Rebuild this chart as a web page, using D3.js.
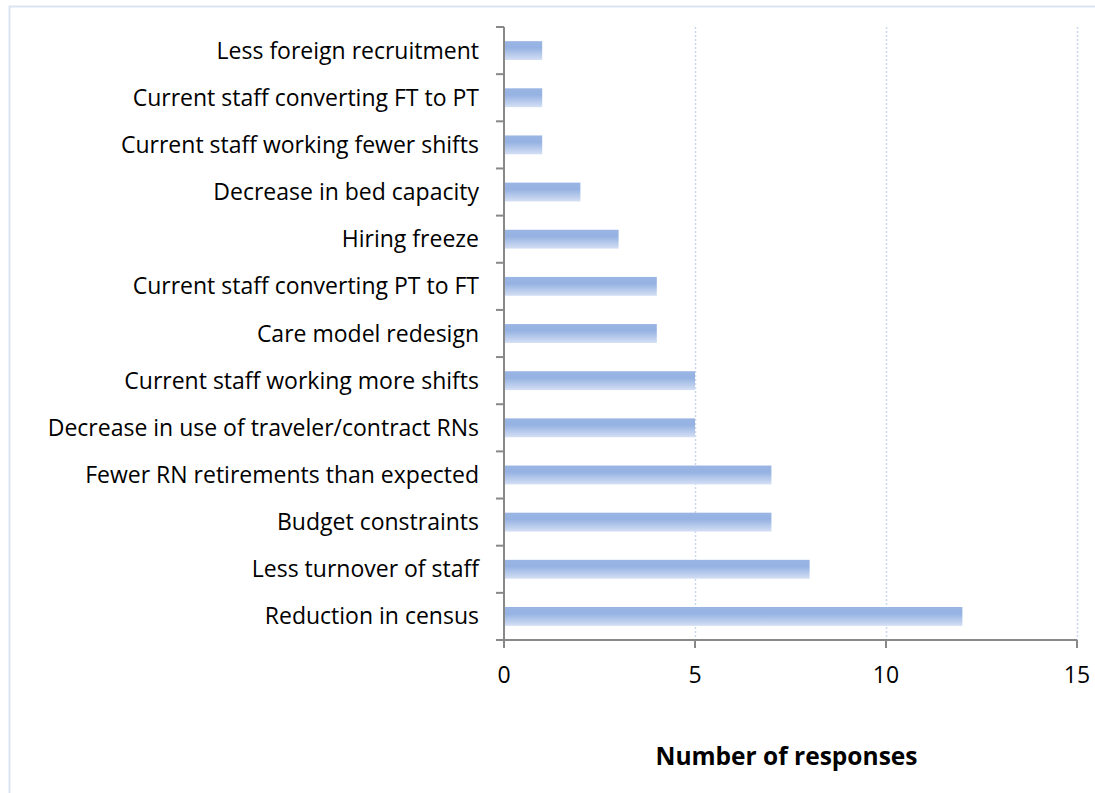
<!DOCTYPE html>
<html><head><meta charset="utf-8">
<script src="https://cdn.jsdelivr.net/npm/d3@7"></script>
<style>body{margin:0;background:#fff;}svg{display:block;font-family:"Open Sans",sans-serif;}</style>
</head><body>
<svg id="chart" width="1095" height="793"></svg>
<script>
const categories = ["Less foreign recruitment","Current staff converting FT to PT","Current staff working fewer shifts","Decrease in bed capacity","Hiring freeze","Current staff converting PT to FT","Care model redesign","Current staff working more shifts","Decrease in use of traveler/contract RNs","Fewer RN retirements than expected","Budget constraints","Less turnover of staff","Reduction in census"];
const values = [1,1,1,2,3,4,4,5,5,7,7,8,12];
const xTicks = [0,5,10,15];
const xTitle = "Number of responses";

const svg = d3.select("#chart");
svg.append("rect").attr("x",9.5).attr("y",6.5).attr("width",1100).attr("height",800)
  .attr("fill","none").attr("stroke","#dbe5f4").attr("stroke-width",2);

const m = {l:504, r:1077, t:27, b:640};
const x = d3.scaleLinear().domain([0,15]).range([m.l,m.r]);
const y = d3.scaleBand().domain(categories).range([m.t,m.b]).paddingInner(0.6).paddingOuter(0.3);
const yb = d3.scaleBand().domain(categories).range([m.t,m.b]);

const defs = svg.append("defs");
const g = defs.append("linearGradient").attr("id","bg").attr("x1",0).attr("y1",0).attr("x2",0).attr("y2",1);
g.append("stop").attr("offset","0%").attr("stop-color","#9ab5e4");
g.append("stop").attr("offset","35%").attr("stop-color","#95b2e2");
g.append("stop").attr("offset","100%").attr("stop-color","#d4dff4");

svg.append("g").selectAll("line").data(xTicks.filter(d=>d>0)).join("line")
  .attr("x1",d=>x(d)+0.5).attr("x2",d=>x(d)+0.5).attr("y1",m.t).attr("y2",m.b)
  .attr("stroke","#c9d7ee").attr("stroke-width",1.5).attr("stroke-dasharray","2,2");

svg.append("g").selectAll("rect").data(categories).join("rect")
  .attr("x",x(0)+1).attr("y",d=>y(d)).attr("height",y.bandwidth())
  .attr("width",(d,i)=>x(values[i])-x(0)-1).attr("fill","url(#bg)");

const ya = svg.append("g").attr("transform",`translate(${m.l},0)`);
ya.append("line").attr("x1",0).attr("x2",0).attr("y1",m.t).attr("y2",m.b+8).attr("stroke","#888").attr("stroke-width",2);
const yTickPos = categories.map(c=>yb(c)).concat([m.b]);
ya.selectAll("line.t").data(yTickPos).join("line").attr("class","t")
  .attr("x1",-8).attr("x2",0).attr("y1",d=>d).attr("y2",d=>d).attr("stroke","#888").attr("stroke-width",2);
ya.selectAll("text").data(categories).join("text")
  .attr("x",-25).attr("y",d=>yb(d)+yb.bandwidth()/2).attr("dy","0.35em")
  .attr("text-anchor","end").attr("font-size",23).attr("fill","#000").text(d=>d);

const xa = svg.append("g").attr("transform",`translate(0,${m.b})`);
xa.append("line").attr("x1",m.l).attr("x2",m.r).attr("y1",0).attr("y2",0).attr("stroke","#888").attr("stroke-width",2);
xa.selectAll("line.t").data(xTicks).join("line").attr("class","t")
  .attr("x1",d=>x(d)).attr("x2",d=>x(d)).attr("y1",0).attr("y2",8).attr("stroke","#888").attr("stroke-width",2);
xa.selectAll("text").data(xTicks).join("text")
  .attr("x",d=>x(d)).attr("y",43).attr("text-anchor","middle").attr("font-size",23).attr("fill","#000").text(d=>d);

svg.append("text").attr("x",(m.l+m.r)/2-4).attr("y",765).attr("text-anchor","middle")
  .attr("font-size",24.5).attr("font-weight","bold").attr("fill","#000").text(xTitle);
</script>
</body></html>
